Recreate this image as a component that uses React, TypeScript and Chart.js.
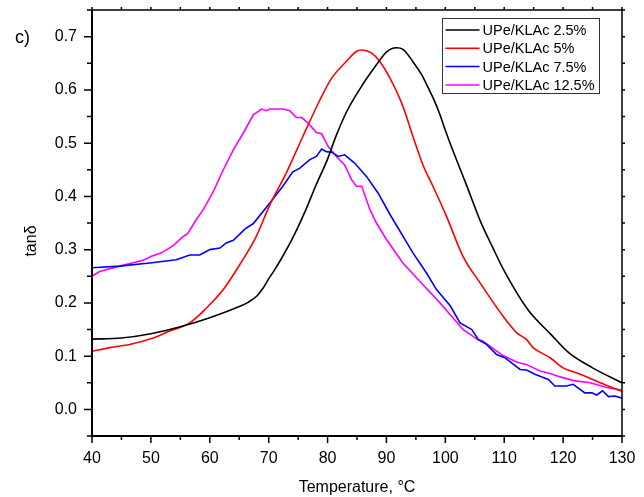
import { useEffect, useRef } from 'react';
import { Chart, registerables } from 'chart.js';

Chart.register(...registerables);

const FONT = "'Liberation Sans', Arial, sans-serif";

const seriesLabels = ['UPe/KLAc 2.5%', 'UPe/KLAc 5%', 'UPe/KLAc 7.5%', 'UPe/KLAc 12.5%'];
const seriesColors = ['#000000', '#ff0000', '#0000ff', '#ff00ff'];

const xTicks = [40, 50, 60, 70, 80, 90, 100, 110, 120, 130];
const yTicks = [0, 0.1, 0.2, 0.3, 0.4, 0.5, 0.6, 0.7];

const t25 = [40, 45, 50, 55, 60, 65, 66.5, 68, 69, 70, 71, 72, 74, 76, 78, 80, 81.5, 83.2, 85.5, 88.3, 90, 91.7, 92.8, 94.5, 96, 97, 98, 99, 100, 101, 103.5, 106, 108, 110, 114, 118, 121, 125, 130];
const v25 = [0.132, 0.134, 0.142, 0.155, 0.172, 0.193, 0.201, 0.213, 0.227, 0.245, 0.262, 0.28, 0.32, 0.367, 0.42, 0.47, 0.515, 0.558, 0.602, 0.647, 0.671, 0.679, 0.676, 0.653, 0.628, 0.606, 0.583, 0.556, 0.524, 0.494, 0.424, 0.352, 0.305, 0.26, 0.1875, 0.14, 0.106, 0.078, 0.05];

const t5 = [40, 43, 46.4, 50.4, 53.2, 56.6, 59.4, 62.3, 65.1, 67.9, 70.2, 73, 75.8, 78.7, 80.7, 82.9, 84.9, 85.8, 87.5, 88.9, 90.6, 92.8, 94.5, 96.2, 97.9, 100.2, 103, 105.9, 109.8, 112.1, 113.8, 114.9, 117.8, 120, 122.9, 126.3, 130];
const v5 = [0.109, 0.116, 0.122, 0.134, 0.147, 0.1625, 0.19, 0.225, 0.272, 0.325, 0.384, 0.444, 0.5125, 0.581, 0.622, 0.65, 0.672, 0.675, 0.669, 0.653, 0.622, 0.569, 0.5125, 0.459, 0.419, 0.3625, 0.2875, 0.2375, 0.175, 0.144, 0.131, 0.116, 0.097, 0.078, 0.066, 0.05, 0.034];

const t75 = [40, 44.7, 49.8, 54.3, 56.6, 58.3, 60, 61.7, 62.8, 64, 66, 67.4, 70.2, 72.4, 74.1, 75.3, 77, 78.1, 79, 79.8, 80.7, 81.8, 82.9, 84.6, 86.6, 88.6, 90.6, 94.5, 96.8, 98.5, 100.8, 102.5, 104.5, 105.6, 107, 108.7, 110.1, 112.7, 113.8, 115.2, 117.5, 118.6, 120.6, 121.7, 123.7, 124.9, 125.7, 126.7, 127.7, 128.8, 130];
const v75 = [0.266, 0.269, 0.275, 0.281, 0.29, 0.29, 0.3, 0.303, 0.3125, 0.3175, 0.339, 0.349, 0.3875, 0.419, 0.446, 0.453, 0.469, 0.475, 0.489, 0.484, 0.483, 0.475, 0.478, 0.4625, 0.4375, 0.406, 0.366, 0.294, 0.256, 0.225, 0.195, 0.1625, 0.15, 0.131, 0.122, 0.103, 0.097, 0.075, 0.074, 0.066, 0.056, 0.044, 0.044, 0.047, 0.031, 0.031, 0.027, 0.035, 0.024, 0.025, 0.021];

const t125 = [40, 41.3, 44.7, 48.7, 50.1, 51.8, 53.8, 55.2, 56.3, 57.7, 58.9, 60.6, 62.3, 64, 65.7, 67.4, 68.8, 69.6, 70.2, 72.4, 73.6, 74.7, 75.6, 76.7, 78.1, 79, 80.1, 81.5, 82.9, 84.1, 84.9, 85.8, 87.2, 88.3, 90, 92.8, 96.2, 99.1, 100.8, 103, 105.3, 106.4, 109.8, 112.1, 113.8, 116.1, 117.8, 119.5, 121.8, 124.6, 127.4, 130];
const v125 = [0.25, 0.259, 0.269, 0.28, 0.2875, 0.294, 0.3075, 0.322, 0.331, 0.356, 0.375, 0.409, 0.45, 0.4875, 0.519, 0.553, 0.564, 0.561, 0.564, 0.564, 0.561, 0.548, 0.548, 0.5375, 0.52, 0.5175, 0.494, 0.475, 0.459, 0.431, 0.419, 0.419, 0.375, 0.35, 0.319, 0.275, 0.234, 0.2, 0.178, 0.15, 0.1325, 0.128, 0.101, 0.089, 0.084, 0.072, 0.0675, 0.061, 0.054, 0.05, 0.041, 0.036];

const seriesX = [t25, t5, t75, t125];
const seriesY = [v25, v5, v75, v125];
const smoothFlags = [true, true, false, false];

const decorPlugin = {
  id: 'decor',
  afterDatasetsDraw(chart: any) {
    const { ctx, chartArea: a, scales } = chart;
    const xs = scales.x;
    const ys = scales.y;
    ctx.save();
    ctx.strokeStyle = '#000';
    ctx.lineWidth = 1.5;
    for (let v = 40; v <= 130; v += 5) {
      const px = xs.getPixelForValue(v);
      const major = v % 10 === 0;
      ctx.beginPath();
      ctx.moveTo(px, a.bottom);
      ctx.lineTo(px, a.bottom + (major ? 7 : 4));
      ctx.moveTo(px, a.top);
      ctx.lineTo(px, a.top - 3);
      ctx.stroke();
    }
    for (let i = -1; i <= 15; i++) {
      const v = i * 0.05;
      const py = ys.getPixelForValue(v);
      const major = i >= 0 && i % 2 === 0;
      ctx.beginPath();
      ctx.moveTo(a.left, py);
      ctx.lineTo(a.left - (major ? 8 : 5), py);
      ctx.moveTo(a.right, py);
      ctx.lineTo(a.right + 3, py);
      ctx.stroke();
    }
    ctx.lineWidth = 1.5;
    ctx.beginPath();
    ctx.moveTo(a.left, a.top);
    ctx.lineTo(a.right, a.top);
    ctx.lineTo(a.right, a.bottom);
    ctx.stroke();
    ctx.lineWidth = 2;
    ctx.beginPath();
    ctx.moveTo(a.left, a.top);
    ctx.lineTo(a.left, a.bottom);
    ctx.lineTo(a.right, a.bottom);
    ctx.stroke();

    // legend
    const lx = Math.round(a.right - 180) + 0.5;
    const ly = Math.round(a.top + 8) + 0.5;
    const lw = 157;
    const lh = 75;
    ctx.fillStyle = '#fff';
    ctx.fillRect(lx, ly, lw, lh);
    ctx.strokeStyle = '#333';
    ctx.lineWidth = 1;
    ctx.strokeRect(lx, ly, lw, lh);
    ctx.font = `14.5px ${FONT}`;
    ctx.textBaseline = 'middle';
    ctx.textAlign = 'left';
    chart.data.datasets.forEach((ds: any, i: number) => {
      const ry = ly + 11.5 + i * 18.3;
      ctx.strokeStyle = ds.borderColor;
      ctx.lineWidth = 1.5;
      ctx.beginPath();
      ctx.moveTo(lx + 3, ry);
      ctx.lineTo(lx + 37, ry);
      ctx.stroke();
      ctx.fillStyle = '#000';
      ctx.fillText(ds.label, lx + 40, ry + 1);
    });

    // y-axis title
    ctx.save();
    ctx.translate(32, 241);
    ctx.rotate(-Math.PI / 2);
    ctx.font = `16px ${FONT}`;
    ctx.textAlign = 'center';
    ctx.textBaseline = 'middle';
    ctx.fillStyle = '#000';
    ctx.fillText('tanδ', 0, 0);
    ctx.restore();

    // panel label
    ctx.font = `18px ${FONT}`;
    ctx.fillStyle = '#000';
    ctx.textAlign = 'left';
    ctx.textBaseline = 'alphabetic';
    ctx.fillText('c)', 15, 43);
    ctx.restore();
  },
};

export default function App() {
  const ref = useRef<HTMLCanvasElement | null>(null);
  useEffect(() => {
    if (!ref.current) return;
    const chart = new Chart(ref.current, {
      type: 'line',
      data: {
        datasets: seriesLabels.map((label, i) => ({
          label,
          data: seriesX[i].map((x, j) => ({ x, y: seriesY[i][j] })),
          borderColor: seriesColors[i],
          backgroundColor: seriesColors[i],
          borderWidth: 1.6,
          pointRadius: 0,
          fill: false,
          cubicInterpolationMode: smoothFlags[i] ? 'monotone' : 'default',
          tension: 0,
        })),
      },
      options: {
        responsive: false,
        animation: false,
        layout: { padding: { left: 0, right: 22, top: 10, bottom: 0 } },
        plugins: { legend: { display: false }, tooltip: { enabled: false } },
        scales: {
          x: {
            type: 'linear',
            min: 40,
            max: 130,
            afterBuildTicks: (s: any) => {
              s.ticks = xTicks.map((v) => ({ value: v }));
            },
            afterFit: (s: any) => {
              s.height = 61;
              s.paddingLeft = 0;
              s.paddingRight = 0;
            },
            grid: { display: false, drawTicks: false },
            border: { display: false },
            ticks: {
              autoSkip: false,
              maxRotation: 0,
              padding: 13,
              color: '#000',
              font: { family: FONT, size: 16 },
              callback: (v: any) => String(v),
            },
            title: {
              display: true,
              text: 'Temperature, °C',
              color: '#000',
              font: { family: FONT, size: 16 },
              padding: { top: 0, bottom: 0 },
            },
          },
          y: {
            type: 'linear',
            min: -0.05,
            max: 0.75,
            afterBuildTicks: (s: any) => {
              s.ticks = yTicks.map((v) => ({ value: v }));
            },
            afterFit: (s: any) => {
              s.width = 92;
              s.paddingTop = 0;
              s.paddingBottom = 0;
            },
            grid: { display: false, drawTicks: false },
            border: { display: false },
            ticks: {
              autoSkip: false,
              padding: 15,
              color: '#000',
              font: { family: FONT, size: 16 },
              callback: (v: any) => Number(v).toFixed(1),
            },
            title: { display: false },
          },
        },
      },
      plugins: [decorPlugin],
    });
    return () => chart.destroy();
  }, []);
  return (
    <canvas
      ref={ref}
      width={644}
      height={497}
      style={{ position: 'absolute', left: 0, top: 0, display: 'block' }}
    />
  );
}
